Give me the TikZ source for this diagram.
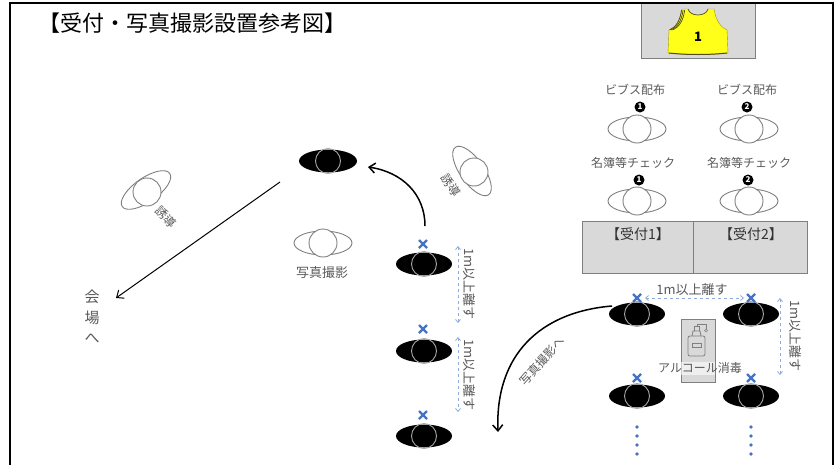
\documentclass[tikz,border=0pt]{standalone}
\usepackage{fontspec}
\setmainfont{Noto Sans CJK JP}
\usetikzlibrary{shapes.geometric,arrows.meta}

\definecolor{txtgray}{HTML}{595959}
\definecolor{linegray}{HTML}{7F7F7F}
\definecolor{boxgray}{HTML}{D9D9D9}
\definecolor{markblue}{HTML}{4472C4}
\definecolor{dashblue}{HTML}{8FAADC}
\definecolor{bibyellow}{HTML}{FFFF1A}
\definecolor{bibstripe}{HTML}{4D4D1A}

\tikzset{
  staffbody/.style={ellipse, draw=linegray, line width=0.9pt, fill=white,
    minimum width=58pt, minimum height=24pt, inner sep=0pt},
  staffhead/.style={circle, draw=linegray, line width=0.9pt, fill=white,
    minimum size=28pt, inner sep=0pt},
  guestbody/.style={ellipse, fill=black, minimum width=56pt,
    minimum height=23pt, inner sep=0pt},
  guesthead/.style={circle, draw=black!35, line width=0.9pt,
    minimum size=25pt, inner sep=0pt},
  lbl/.style={text=txtgray, font=\fontsize{12}{12}\selectfont, inner sep=0pt},
  gaplbl/.style={text=txtgray, font=\fontsize{13}{13}\selectfont, inner sep=0pt},
  numdot/.style={circle, fill=black, text=white,
    font=\fontsize{8}{8}\selectfont\bfseries, minimum size=11pt, inner sep=0pt},
  gap/.style={dashed, dashblue, line width=0.8pt,
    {Straight Barb[length=3pt,width=5pt]}-{Straight Barb[length=3pt,width=5pt]}},
  flow/.style={line width=1.5pt, -{Straight Barb[length=6pt,width=10pt]}},
  gbox/.style={draw=linegray, fill=boxgray, line width=0.8pt},
  pics/xmark/.style={code={
    \draw[markblue, line width=2.4pt] (-4,-4) -- (4,4) (-4,4) -- (4,-4);}},
  pics/dotcol/.style={code={
    \foreach \dy in {0,9,18,27} \fill[markblue] (0,\dy) circle (1.9);}},
}

\begin{document}
\begin{tikzpicture}[x=1pt,y=-1pt]
\useasboundingbox (0,0) rectangle (838,464);

% bib sample
\draw[gbox] (641,3) rectangle (755,58);
\fill[bibyellow, draw=bibyellow!60!black, line width=0.4pt]
  (682,9) -- (688,9) .. controls (690,17) and (706,17) .. (708,9) -- (714,9)
  .. controls (716,22) and (722,28) .. (727,30) -- (728,53)
  .. controls (710,55) and (686,55) .. (668,53) -- (669,30)
  .. controls (675,28) and (680,22) .. (682,9) -- cycle;
\foreach \s in {0,1.6,3.2}
  \draw[bibstripe, line width=0.7pt]
    (681.5+\s,10) .. controls (680+\s,21) and (676+\s,27) .. (669.5+\s,30);
\draw[bibstripe, line width=0.6pt] (688,9) .. controls (690,17) and (706,17) .. (708,9);
\draw[bibstripe, line width=1pt] (669,53) .. controls (686,55) and (710,55) .. (727,53);
\node[font=\fontsize{13}{13}\selectfont\bfseries, inner sep=0pt] (bibno) at (698,37) {1};

% frame and title
\draw[line width=2pt] (10,470) -- (10,3) -- (833,3) -- (833,470);
\node[font=\fontsize{22}{22}\selectfont, inner sep=0pt] (title) at (192,23)
  {【受付・写真撮影設置参考図】};

% bib distribution staff
\node[lbl] (t1) at (635,90) {ビブス配布};
\node[lbl] (t2) at (747,90) {ビブス配布};
\node[numdot] (n1) at (640,107) {1};
\node[numdot] (n2) at (747,107) {2};
\node[staffbody] (s1) at (637,129) {};
\node[staffhead] (s1h) at (637,129) {};
\node[staffbody] (s2) at (749,129) {};
\node[staffhead] (s2h) at (749,129) {};

% list check staff
\node[lbl] (t3) at (633,163) {名簿等チェック};
\node[lbl] (t4) at (749,163) {名簿等チェック};
\node[numdot] (n3) at (639,180) {1};
\node[numdot] (n4) at (748,180) {2};
\node[staffbody] (s3) at (637,201) {};
\node[staffhead] (s3h) at (637,201) {};
\node[staffbody] (s4) at (749,201) {};
\node[staffhead] (s4h) at (749,201) {};

% reception desks
\node[gbox, rectangle, minimum width=111pt, minimum height=52pt, anchor=north west]
  (desk1) at (582,221) {};
\node[gbox, rectangle, minimum width=114pt, minimum height=52pt, anchor=north west]
  (desk2) at (693,221) {};
\node[font=\fontsize{14}{14}\selectfont, text=black!80, inner sep=0pt] (d1) at (638,234) {【受付1】};
\node[font=\fontsize{14}{14}\selectfont, text=black!80, inner sep=0pt] (d2) at (751,234) {【受付2】};

% sanitiser stand
\node[gbox, rectangle, minimum width=34pt, minimum height=63pt, anchor=north west]
  (stand) at (681,319) {};
\draw[linegray, line width=0.8pt, rounded corners=2pt]
  (688,336) rectangle (705,356);
\draw[linegray, line width=0.8pt] (692,343) rectangle (701,347);
\draw[linegray, line width=0.8pt] (692,336) -- (693,331) -- (700,331) -- (701,336);
\draw[linegray, line width=0.8pt] (694,331) -- (694,326) -- (699,326) -- (699,331);
\draw[linegray, line width=0.8pt] (697,326) -- (697,324) -- (706,324) -- (706,329);
\draw[linegray, line width=0.6pt] (706,330.5) circle (1.5);
\fill[white, opacity=0.6] (681.4,362) rectangle (714.6,375);
\node[lbl] (alc) at (700,368) {アルコール消毒};

% reception queue
\node[guestbody] (r1) at (637,314) {};
\node[guesthead] (r1h) at (637,314) {};
\node[guestbody] (r2) at (751,314) {};
\node[guesthead] (r2h) at (751,314) {};
\node[guestbody] (r3) at (637,396) {};
\node[guesthead] (r3h) at (637,396) {};
\node[guestbody] (r4) at (751,396) {};
\node[guesthead] (r4h) at (751,396) {};
\pic at (637,298) {xmark};
\pic at (751,298) {xmark};
\pic at (637,378) {xmark};
\pic at (751,378) {xmark};
\pic at (637,427) {dotcol};
\pic at (751,427) {dotcol};

\coordinate (ga) at (645,298);
\coordinate (gb) at (744,298);
\draw[gap] (ga) -- (gb);
\node[gaplbl] (gl1) at (692,290) {1m以上離す};
\coordinate (gc) at (780,298);
\coordinate (gd) at (780,375);
\draw[gap] (gc) -- (gd);
\node[gaplbl, rotate=-90] (gl2) at (795,336) {1m以上離す};

% to the photo spot
\coordinate (fa) at (612,306);
\coordinate (fb) at (498,432);
\draw[flow] (fa) .. controls (540,312) and (495,355) .. (fb);
\node[lbl, rotate=48] (fl) at (542,361) {写真撮影へ};

% photo queue
\node[guestbody] (q1) at (424,264) {};
\node[guesthead] (q1h) at (424,264) {};
\node[guestbody] (q2) at (424,351) {};
\node[guesthead] (q2h) at (424,351) {};
\node[guestbody] (q3) at (424,436) {};
\node[guesthead] (q3h) at (424,436) {};
\pic at (423,244) {xmark};
\pic at (423,329) {xmark};
\pic at (423,415) {xmark};

\coordinate (ha) at (458,246);
\coordinate (hb) at (458,323);
\draw[gap] (ha) -- (hb);
\node[gaplbl, rotate=-90] (hl1) at (469,284) {1m以上離す};
\coordinate (hc) at (458,337);
\coordinate (hd) at (458,412);
\draw[gap] (hc) -- (hd);
\node[gaplbl, rotate=-90] (hl2) at (469,375) {1m以上離す};

% guide staff (right)
\node[staffbody, rotate=-55] (gr) at (472,171) {};
\node[staffhead] (grh) at (474,172) {};
\node[lbl, rotate=-59] (grl) at (451,185) {誘導};

% photographed guest and photographer
\node[guestbody, minimum width=58pt] (g0) at (328,161) {};
\node[guesthead] (g0h) at (328,161) {};
\node[staffbody] (ph) at (323,243) {};
\node[staffhead] (phh) at (323,243) {};
\node[gaplbl] (phl) at (322,273) {写真撮影};

\coordinate (qa) at (425,226);
\coordinate (qb) at (368,167);
\draw[flow] (qa) .. controls (425,194) and (402,172) .. (qb);

% guide staff (left) and exit
\node[staffbody, rotate=35] (gl) at (146,190) {};
\node[staffhead] (glh) at (147,192) {};
\node[lbl, rotate=-45] (gll) at (166,217) {誘導};

\node[text=txtgray, font=\fontsize{15}{20.5}\selectfont, align=center, inner sep=0pt]
  (hall) at (92,317) {会\\場\\へ};
\coordinate (ea) at (280,182);
\coordinate (eb) at (116,298);
\draw[line width=1pt, -{Straight Barb[length=6pt,width=10pt]}] (ea) -- (eb);
\end{tikzpicture}
\end{document}
